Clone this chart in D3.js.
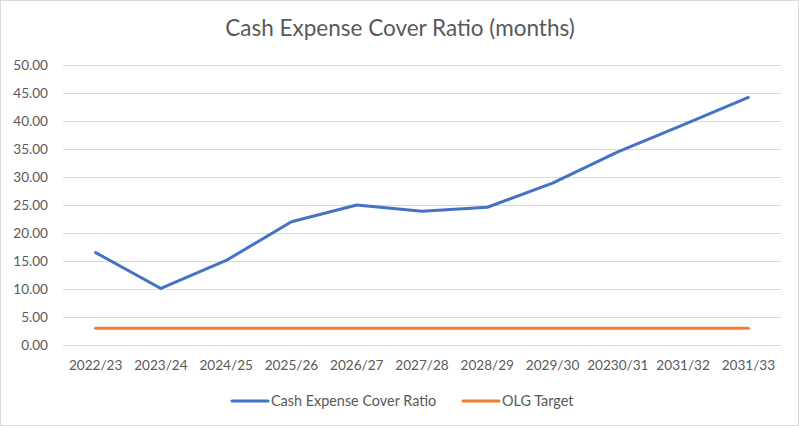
<!DOCTYPE html>
<html><head><meta charset="utf-8">
<script src="https://cdn.jsdelivr.net/npm/d3@7"></script>
<style>body{margin:0;background:#fff}svg{display:block}</style>
</head><body>
<svg id="c" width="799" height="426"></svg>
<script>
const categories = ["2022/23","2023/24","2024/25","2025/26","2026/27","2027/28","2028/29","2029/30","20230/31","2031/32","2031/33"];
const cashCover = [16.5, 10.1, 15.1, 22.0, 25.0, 23.9, 24.6, 28.9, 34.5, 39.3, 44.2];
const olgTarget = [3, 3, 3, 3, 3, 3, 3, 3, 3, 3, 3];
const yTicks = [0,5,10,15,20,25,30,35,40,45,50];
const title = "Cash Expense Cover Ratio (months)";
const seriesNames = ["Cash Expense Cover Ratio", "OLG Target"];

const W = 799, H = 426;
const font = "Lato, 'Open Sans', sans-serif";
const txt = "#595959";
const svg = d3.select("#c");
svg.append("rect").attr("x",0.5).attr("y",0.5).attr("width",W-1).attr("height",H-1)
  .attr("fill","#fff").attr("stroke","#d9d9d9");

const m = {left:63, right:18, top:65, bottom:81};
const x = d3.scaleBand().domain(categories).range([m.left, W-m.right]);
const y = d3.scaleLinear().domain([0,50]).range([H-m.bottom, m.top]);

// gridlines
const g = svg.append("g");
g.selectAll("line.grid").data(yTicks).join("line")
  .attr("x1", m.left).attr("x2", W-m.right)
  .attr("y1", d=>Math.round(y(d))+0.5).attr("y2", d=>Math.round(y(d))+0.5)
  .attr("stroke", "#d9d9d9").attr("stroke-width",1);

// y axis labels
const yAxis = d3.axisLeft(y).tickValues(yTicks).tickFormat(d3.format(".2f")).tickSize(0).tickPadding(15);
const ya = svg.append("g").attr("transform",`translate(${m.left},0)`).call(yAxis);
ya.select(".domain").remove();
ya.selectAll("text").attr("fill",txt).style("font-family",font).style("font-size","13.6px");

// x axis labels
const xAxis = d3.axisBottom(x).tickSize(0).tickPadding(15);
const xa = svg.append("g").attr("transform",`translate(0,${H-m.bottom})`).call(xAxis);
xa.select(".domain").remove();
xa.selectAll("text").attr("fill",txt).style("font-family",font).style("font-size","13.6px");

const cx = d => x(d) + x.bandwidth()/2;
const line = d3.line().x((d,i)=>cx(categories[i])).y(d=>y(d));

svg.append("path").datum(olgTarget).attr("d",line).attr("fill","none")
  .attr("stroke","#ED7D31").attr("stroke-width",3).attr("stroke-linecap","round");
svg.append("path").datum(cashCover).attr("d",line).attr("fill","none")
  .attr("stroke","#4472C4").attr("stroke-width",3).attr("stroke-linecap","round").attr("stroke-linejoin","round");

// title
svg.append("text").attr("x",400).attr("y",36).attr("text-anchor","middle")
  .attr("fill",txt).style("font-family",font).style("font-size","22.5px").text(title);

// legend
const legendItems = [{name:seriesNames[0], color:"#4472C4", x1:232}, {name:seriesNames[1], color:"#ED7D31", x1:463}];
const lg = svg.append("g");
legendItems.forEach(it=>{
  lg.append("line").attr("x1",it.x1).attr("x2",it.x1+36).attr("y1",401).attr("y2",401)
    .attr("stroke",it.color).attr("stroke-width",3).attr("stroke-linecap","round");
  lg.append("text").attr("x",it.x1+39).attr("y",406).attr("fill",txt)
    .style("font-family",font).style("font-size","14.4px").text(it.name);
});
</script>
</body></html>
